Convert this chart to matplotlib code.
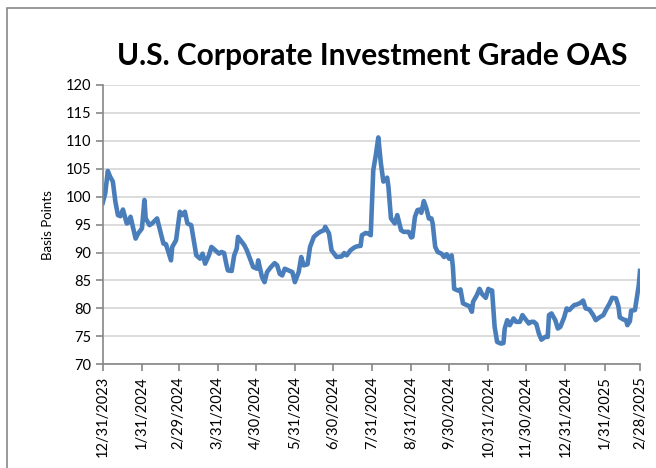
import pandas as pd
import matplotlib.pyplot as plt
import matplotlib.dates as mdates
from matplotlib.patches import Rectangle

# --- data ---
dates = [
    "2023-12-31", "2024-01-02", "2024-01-04", "2024-01-06", "2024-01-08", "2024-01-10",
    "2024-01-12", "2024-01-14", "2024-01-16", "2024-01-19", "2024-01-20", "2024-01-22",
    "2024-01-26", "2024-01-28", "2024-01-31", "2024-02-02", "2024-02-03", "2024-02-06",
    "2024-02-08", "2024-02-12", "2024-02-14", "2024-02-17", "2024-02-19", "2024-02-23",
    "2024-02-24", "2024-02-27", "2024-03-01", "2024-03-03", "2024-03-05", "2024-03-07",
    "2024-03-10", "2024-03-14", "2024-03-17", "2024-03-19", "2024-03-21", "2024-03-24",
    "2024-03-26", "2024-03-29", "2024-04-01", "2024-04-03", "2024-04-05", "2024-04-07",
    "2024-04-08", "2024-04-11", "2024-04-13", "2024-04-15", "2024-04-16", "2024-04-19",
    "2024-04-21", "2024-04-23", "2024-04-26", "2024-04-28", "2024-05-01", "2024-05-02",
    "2024-05-05", "2024-05-07", "2024-05-09", "2024-05-12", "2024-05-15", "2024-05-17",
    "2024-05-19", "2024-05-21", "2024-05-23", "2024-05-26", "2024-05-29", "2024-05-31",
    "2024-06-03", "2024-06-05", "2024-06-07", "2024-06-10", "2024-06-12", "2024-06-15",
    "2024-06-18", "2024-06-20", "2024-06-23", "2024-06-24", "2024-06-27", "2024-06-29",
    "2024-07-03", "2024-07-07", "2024-07-09", "2024-07-11", "2024-07-14", "2024-07-17",
    "2024-07-19", "2024-07-22", "2024-07-23", "2024-07-26", "2024-07-28", "2024-07-30",
    "2024-08-01", "2024-08-03", "2024-08-05", "2024-08-07", "2024-08-09", "2024-08-11",
    "2024-08-12", "2024-08-13", "2024-08-15", "2024-08-18", "2024-08-20", "2024-08-21",
    "2024-08-23", "2024-08-25", "2024-08-29", "2024-08-31", "2024-09-01", "2024-09-03",
    "2024-09-05", "2024-09-07", "2024-09-08", "2024-09-10", "2024-09-12", "2024-09-14",
    "2024-09-16", "2024-09-17", "2024-09-19", "2024-09-21", "2024-09-24", "2024-09-26",
    "2024-09-28", "2024-09-30", "2024-10-02", "2024-10-03", "2024-10-04", "2024-10-07",
    "2024-10-09", "2024-10-11", "2024-10-14", "2024-10-16", "2024-10-18", "2024-10-19",
    "2024-10-22", "2024-10-24", "2024-10-26", "2024-10-29", "2024-10-31", "2024-11-02",
    "2024-11-03", "2024-11-05", "2024-11-07", "2024-11-10", "2024-11-12", "2024-11-13",
    "2024-11-15", "2024-11-17", "2024-11-20", "2024-11-22", "2024-11-25", "2024-11-27",
    "2024-11-30", "2024-12-02", "2024-12-04", "2024-12-06", "2024-12-08", "2024-12-10",
    "2024-12-12", "2024-12-15", "2024-12-17", "2024-12-18", "2024-12-20", "2024-12-23",
    "2024-12-25", "2024-12-27", "2024-12-30", "2025-01-01", "2025-01-03", "2025-01-07",
    "2025-01-09", "2025-01-12", "2025-01-14", "2025-01-16", "2025-01-19", "2025-01-22",
    "2025-01-24", "2025-01-27", "2025-01-30", "2025-02-01", "2025-02-04", "2025-02-06",
    "2025-02-09", "2025-02-11", "2025-02-12", "2025-02-15", "2025-02-17", "2025-02-18",
    "2025-02-20", "2025-02-21", "2025-02-24", "2025-02-26", "2025-02-27", "2025-02-28",
]
oas_bp = [
    98.9, 100.6, 104.6, 103.5, 102.7, 99.1,
    96.7, 96.5, 97.7, 95.2, 95.3, 96.4,
    92.5, 93.4, 94.3, 99.4, 96.1, 94.9,
    95.2, 96.1, 94.3, 91.6, 91.5, 88.6,
    91.0, 92.2, 97.3, 96.7, 97.3, 95.2,
    94.9, 89.5, 88.9, 89.8, 88.0, 89.5,
    91.0, 90.4, 89.8, 90.1, 89.9, 87.7,
    86.8, 86.7, 89.5, 90.7, 92.8, 91.9,
    91.3, 90.4, 88.6, 87.4, 87.1, 88.6,
    85.6, 84.7, 86.5, 87.4, 88.1, 87.7,
    86.2, 85.9, 87.1, 86.8, 86.5, 84.7,
    86.5, 89.2, 87.7, 87.9, 91.0, 92.8,
    93.4, 93.7, 94.0, 94.6, 93.4, 90.4,
    89.2, 89.3, 89.9, 89.5, 90.4, 90.9,
    91.1, 91.2, 93.1, 93.5, 93.4, 93.1,
    104.7, 107.4, 110.6, 106.0, 102.7, 103.0,
    103.4, 101.8, 96.1, 95.2, 96.7, 95.8,
    94.0, 93.7, 93.7, 92.7, 92.8, 96.4,
    97.6, 97.7, 97.1, 99.2, 97.9, 96.1,
    96.1, 95.2, 91.0, 90.1, 89.8, 89.2,
    89.7, 88.9, 89.5, 87.4, 83.5, 83.2,
    83.4, 80.9, 80.6, 80.4, 79.4, 81.2,
    82.4, 83.5, 82.6, 81.9, 83.5, 83.2,
    83.2, 76.7, 74.0, 73.7, 73.8, 76.4,
    77.9, 77.0, 78.2, 77.6, 77.6, 78.8,
    77.9, 77.3, 77.6, 77.6, 77.2, 75.5,
    74.4, 74.9, 74.9, 78.8, 79.1, 77.9,
    76.4, 76.7, 78.4, 80.0, 79.7, 80.6,
    80.7, 81.0, 81.4, 80.0, 79.8, 78.8,
    77.9, 78.4, 78.8, 79.7, 80.9, 81.9,
    81.8, 80.3, 78.4, 78.0, 77.9, 77.0,
    77.7, 79.6, 79.7, 82.6, 84.1, 86.7,
]
tick_dates = ["2023-12-31", "2024-01-31", "2024-02-29", "2024-03-31", "2024-04-30",
              "2024-05-31", "2024-06-30", "2024-07-31", "2024-08-31", "2024-09-30",
              "2024-10-31", "2024-11-30", "2024-12-31", "2025-01-31", "2025-02-28"]
y_ticks = [70, 75, 80, 85, 90, 95, 100, 105, 110, 115, 120]

plt.rcParams['font.family'] = ['Lato', 'DejaVu Sans']

x = pd.to_datetime(dates)
ticks = pd.to_datetime(tick_dates)


def month_day_year(v, pos):
    d = mdates.num2date(v)
    return f"{d.month}/{d.day}/{d.year}"


fig = plt.figure(figsize=(6.56, 4.68), dpi=100)
ax = fig.add_axes([0.1566, 0.2216, 0.819, 0.597])

ax.plot(x, oas_bp, color='#4a7ebb', linewidth=3.3, solid_joinstyle='round')

ax.set_ylim(70, 120)
ax.set_yticks(y_ticks)
ax.set_xlim(ticks[0], ticks[-1])
ax.set_xticks(ticks)
ax.xaxis.set_major_formatter(plt.FuncFormatter(month_day_year))
for lbl in ax.get_xticklabels():
    lbl.set_rotation(90)

ax.grid(True, axis='y', color='#d9d9d9', linewidth=1.3)
ax.set_axisbelow(True)
for s in ['top', 'right']:
    ax.spines[s].set_visible(False)
for s in ['left', 'bottom']:
    ax.spines[s].set_color('#868686')
    ax.spines[s].set_linewidth(1.2)
ax.tick_params(axis='both', direction='out', length=5, color='#868686', width=1.2,
               labelsize=10.5, labelcolor='black')
ax.set_ylabel("Basis Points", fontsize=9.5, labelpad=8)

fig.text(0.568, 0.881, "U.S. Corporate Investment Grade OAS", ha='center', va='center',
         fontsize=21.5, fontweight='bold')

# chart-area border like the spreadsheet frame
fig.patches.append(Rectangle((7 / 656, -0.1), 1.2, 1.1 - 8 / 468, transform=fig.transFigure,
                             fill=False, edgecolor='#888888', linewidth=1.2))

fig.savefig("out.png", dpi=100)
